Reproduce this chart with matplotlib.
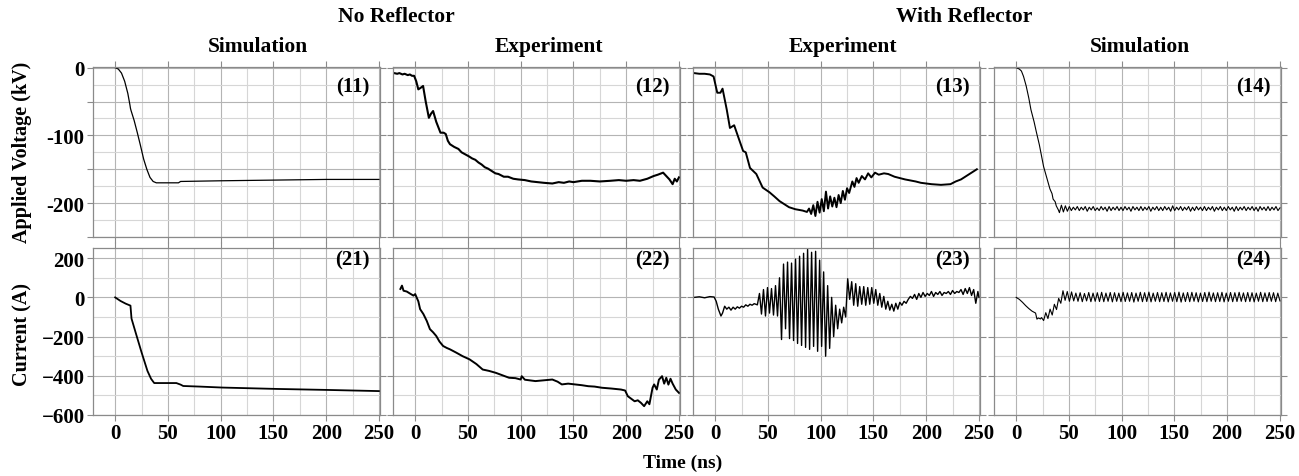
import numpy as np
import matplotlib.pyplot as plt
from matplotlib.ticker import MultipleLocator, FuncFormatter

plt.rcParams['font.family'] = ['Liberation Serif', 'DejaVu Serif']
plt.rcParams['font.weight'] = 'bold'

# ---- (11) simulation voltage, no reflector
t11 = [0, 3, 6, 9, 12, 14, 14.5, 15, 18, 21, 24, 27, 30, 33, 36, 39, 45, 55, 60, 62, 100, 150, 200, 250]
v11 = [0, -2, -8, -20, -38, -55, -60, -63, -78, -96, -115, -135, -150, -162, -168, -170, -170, -170, -170, -168, -167, -166, -165, -165]

# ---- (12) experiment voltage, no reflector
t12 = [-20, -17, -15, -12, -10, -7, -5, -3, -1, 1, 3, 5, 7.5, 10, 13, 15, 17, 20, 24, 27, 29, 31, 33,
       37, 41, 44, 47.5, 51, 54, 57, 60, 63, 66, 69, 72, 76, 79, 84, 88, 93, 97.5, 104, 110, 116, 122, 130, 136, 141,
       146, 150, 158, 166, 175, 185, 193, 200, 207, 213, 220, 226, 230, 235, 238, 241, 244, 246, 248, 250]
v12 = [-8, -9, -8, -10, -9, -11, -10, -12, -12, -20, -32, -30, -27, -50, -74, -68, -64, -80, -96, -96, -98, -108, -113,
       -117, -120, -125, -128, -131, -134, -136, -140, -143, -147, -149, -152, -156, -157, -161, -161, -164, -165, -166, -168, -169, -170, -171, -169, -170,
       -168, -169, -167, -167, -168, -167, -166, -167, -166, -167, -164, -160, -158, -155, -160, -165, -172, -164, -168, -162]

# ---- (13) experiment voltage, with reflector
t13 = [-20, -15, -10, -5, -1.5, 2, 5, 7, 11, 14, 18, 22, 26.5, 29, 33, 39, 45, 51.5, 56, 61, 70, 76, 83,
       87, 89, 91, 93, 95, 97, 99, 101, 103, 105, 107, 109, 111, 113, 115, 117, 119, 121, 123, 125, 127,
       130, 132, 134, 136, 139, 142, 145, 148, 151.5, 155, 160, 164, 170, 180, 190, 195, 205, 214, 223,
       228, 233, 240, 245, 248]
v13 = [-8, -9, -9, -10, -13, -37, -37, -31, -62, -89, -85, -103, -123, -125, -148, -157, -177, -184, -190, -197, -206, -209, -211,
       -213, -208, -216, -203, -219, -198, -214, -194, -212, -183, -208, -190, -205, -192, -206, -188, -200, -182, -195, -178, -185,
       -168, -176, -163, -170, -160, -165, -156, -162, -155, -158, -156, -157, -161, -165, -168, -170, -172, -173, -172,
       -168, -165, -158, -153, -150]

# ---- (14) simulation voltage, with reflector
t14_rise = [0, 3, 5, 7, 9.5, 12, 14, 17, 19, 22, 24, 26, 28.5, 30, 32, 34, 35, 37, 38, 40]
v14_rise = [0, -2, -5, -13, -27, -45, -62, -80, -94, -114, -130, -146, -160, -168, -179, -186, -194, -198, -204, -210]
v14_tail = [-214, -203, -213, -204, -212, -205, -211, -206, -210, -205, -211, -206, -210, -205, -212, -206,
            -210, -205, -211, -207, -211, -205, -210, -206, -212, -205, -211, -206, -210, -205, -211, -206,
            -211, -205, -210, -206, -212, -205, -210, -206, -211, -205, -211, -206, -210, -205, -212, -206,
            -210, -205, -211, -206, -211, -205, -210, -206, -212, -204, -211, -206, -210, -205, -211, -206,
            -210, -205, -212, -206, -211, -205, -210, -206, -211, -205, -211, -206, -210, -205, -212, -206,
            -210, -205, -211, -206, -211, -205, -210, -206, -212, -205, -211, -206, -210, -205, -211, -206,
            -210, -205, -211, -206, -212, -205, -210, -206, -211, -205, -211, -206, -210, -205, -211, -207]

# ---- (21) simulation current, no reflector
t21 = [0, 5, 10, 14.5, 15.5, 20, 25, 30.6, 34, 37, 45, 52, 58, 62, 64.5, 80, 101.6, 153, 200, 250]
i21 = [0, -18, -32, -42, -108, -190, -280, -375, -415, -437, -437, -437, -437, -445, -452, -455, -460, -467, -472, -478]

# ---- (22) experiment current, no reflector
t22 = [-14, -12.5, -11, -8, -5, -1.6, 0, 3, 4.7, 7.8, 11, 14, 17, 20, 23, 26.5, 30, 33, 39, 45, 51.5, 58, 64,
       70, 76.5, 83, 89, 95, 100, 101, 104, 114, 122, 130, 135, 139, 145, 151.5, 158, 164, 170, 177, 186,
       195, 199, 201.5, 205, 208, 211, 214, 217, 220, 222, 225, 226.5, 229, 231, 234, 236, 238, 240, 242,
       244, 247, 250]
i22 = [43, 60, 34, 30, 20, 9, 17, -20, -60, -85, -120, -162, -178, -197, -225, -248, -258, -265, -282, -300, -316, -340, -368,
       -375, -385, -398, -410, -412, -419, -402, -420, -427, -423, -419, -430, -444, -440, -444, -448, -453, -455, -461, -465,
       -470, -475, -504, -518, -530, -525, -538, -555, -530, -545, -461, -444, -470, -420, -402, -440, -410, -445, -415,
       -440, -470, -487]

# ---- (23) experiment current, with reflector
t23_pre = [-20, -15, -10, -5, -1, 1, 3, 5.5, 7, 9, 11, 13, 15, 17, 19, 21, 23, 25, 27, 29, 31, 33, 35, 37, 40]
i23_pre = [0, 3, -2, 4, 2, -20, -60, -95, -80, -45, -60, -50, -65, -50, -60, -48, -55, -45, -50, -38, -45, -35, -40, -32, -38]
i23_osc = [20, -85, 40, -95, 50, -80, 45, -90, 60, -95, 100, -215, 170, -160, 180, -210, 175, -220, 195, -235,
           210, -245, 225, -255, 245, -265, 230, -250, 235, -275, 190, -250, 130, -300, 60, -260, 0, -200, -40, -160,
           -60, -130, -50, -100, 95, -10, 80, -40, 70, -45, 55, -35, 55, -40, 50, -35, 50, -30, 40, -40,
           20, -50, 5, -60, -20, -65, -35, -70, -30, -60, -25]
t23_post = [177, 179, 181, 183, 185, 187, 189, 191, 193, 195, 197, 199, 201, 203, 205, 207, 209, 211, 213, 215,
            217, 219, 221, 223, 225, 227, 229, 231, 233, 235, 237, 239, 241, 243, 245, 247, 249, 250]
i23_post = [-40, -20, -30, -10, 5, -5, 15, -10, 20, 0, 25, 5, 20, 10, 30, 5, 25, 15, 30, 10,
            25, 20, 30, 15, 35, 20, 30, 25, 40, 15, 45, 20, 50, 10, 40, -30, 30, 0]

# ---- (24) simulation current, with reflector
t24_pre = [0, 3, 6, 9, 12, 15, 18.4, 19.7, 21, 23]
i24_pre = [0, -10, -25, -42, -57, -70, -80, -111, -105, -110]
i24_tail = [-103, -118, -78, -108, -60, -90, -35, -62, -5, -30, 34, -15, 30, -20, 28, -18,
            22, -20, 24, -22, 20, -18, 25, -22, 22, -20, 24, -21, 26, -22, 22, -20,
            25, -23, 24, -20, 22, -22, 26, -21, 23, -20, 25, -24, 22, -20, 26, -22,
            24, -21, 27, -23, 22, -20, 25, -22, 24, -21, 26, -23, 23, -20, 25, -22,
            27, -24, 23, -21, 25, -22, 26, -20, 24, -23, 22, -21, 25, -22, 27, -20,
            23, -22, 24, -21, 26, -23, 22, -20, 25, -22, 24, -21, 26, -20, 23, -22,
            25, -21, 24, -23, 22, -20, 26, -22, 23, -21, 25, -20, 24, -22, 22, -18]

# sample times for oscillating segments
t14_tail = np.linspace(41, 250, len(v14_tail))
t23_osc = np.linspace(42, 175, len(i23_osc))
t24_tail = np.linspace(24, 250, len(i24_tail))

t14 = np.concatenate([t14_rise, t14_tail])
v14 = np.concatenate([v14_rise, v14_tail])
t23 = np.concatenate([t23_pre, t23_osc, t23_post])
i23 = np.concatenate([i23_pre, i23_osc, i23_post])
t24 = np.concatenate([t24_pre, t24_tail])
i24 = np.concatenate([i24_pre, i24_tail])

top_series = [(t11, v11, '(11)', 0.9), (t12, v12, '(12)', 1.5), (t13, v13, '(13)', 1.4), (t14, v14, '(14)', 0.8)]
bot_series = [(t21, i21, '(21)', 1.3), (t22, i22, '(22)', 1.4), (t23, i23, '(23)', 1.0), (t24, i24, '(24)', 0.8)]

W, H = 1299, 477
fig = plt.figure(figsize=(W / 100, H / 100), dpi=100)

lefts = [93, 393, 693, 994]
pw = 287
grid_major = '#b4b4b4'
grid_minor = '#d6d6d6'
spine_c = '#8a8a8a'


def style(ax, top):
    ax.set_xlim(-21, 251)
    ax.xaxis.set_major_locator(MultipleLocator(50))
    ax.xaxis.set_minor_locator(MultipleLocator(25))
    if top:
        ax.set_ylim(-250, 1)
        ax.yaxis.set_major_locator(MultipleLocator(50))
        ax.yaxis.set_minor_locator(MultipleLocator(25))
        ax.yaxis.set_major_formatter(FuncFormatter(lambda v, p: '%d' % v if v % 100 == 0 else ''))
    else:
        ax.set_ylim(-600, 252)
        ax.yaxis.set_major_locator(MultipleLocator(200))
        ax.yaxis.set_minor_locator(MultipleLocator(100))
    ax.grid(True, which='major', color=grid_major, lw=0.8)
    ax.grid(True, which='minor', color=grid_minor, lw=0.8)
    ax.set_axisbelow(True)
    for s in ax.spines.values():
        s.set_color(spine_c)
        s.set_linewidth(0.9)
    ax.tick_params(which='major', direction='out', length=4, width=0.8, color=spine_c,
                   labelsize=15, top=True, right=True, pad=2)
    ax.tick_params(which='minor', length=0)


for k in range(4):
    ax = fig.add_axes([lefts[k] / W, 1 - 238 / H, pw / W, 170 / H])
    t, v, lab, lw = top_series[k]
    ax.plot(t, v, color='black', lw=lw)
    style(ax, True)
    ax.tick_params(labelbottom=False)
    if k > 0:
        ax.tick_params(labelleft=False)
    ax.text(0.965, 0.885, lab, transform=ax.transAxes, ha='right', va='center',
            fontsize=15, fontweight='bold')

    ax = fig.add_axes([lefts[k] / W, 1 - 416 / H, pw / W, 167 / H])
    t, v, lab, lw = bot_series[k]
    ax.plot(t, v, color='black', lw=lw)
    style(ax, False)
    if k > 0:
        ax.tick_params(labelleft=False)
    ax.text(0.965, 0.93, lab, transform=ax.transAxes, ha='right', va='center',
            fontsize=15, fontweight='bold')

fig.text(396 / W, 1 - 17 / H, 'No Reflector', ha='center', va='center', fontsize=15.5)
fig.text(964 / W, 1 - 17 / H, 'With Reflector', ha='center', va='center', fontsize=15.5)
for x, s in [(258, 'Simulation'), (549, 'Experiment'), (843, 'Experiment'), (1140, 'Simulation')]:
    fig.text(x / W, 1 - 47 / H, s, ha='center', va='center', fontsize=15.5)
fig.text(22 / W, 1 - 152 / H, 'Applied Voltage (kV)', rotation=90, ha='center', va='center', fontsize=14.5)
fig.text(22 / W, 1 - 335 / H, 'Current (A)', rotation=90, ha='center', va='center', fontsize=14.5)
fig.text(683 / W, 1 - 463 / H, 'Time (ns)', ha='center', va='center', fontsize=14)

fig.savefig('out.png', dpi=100)
